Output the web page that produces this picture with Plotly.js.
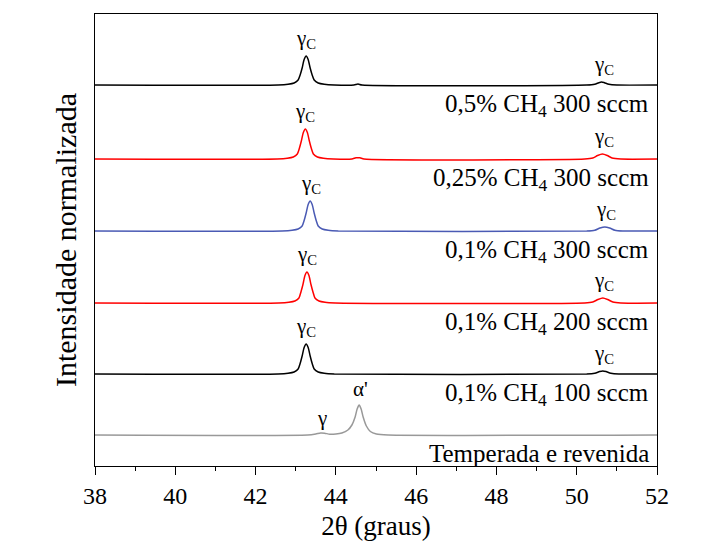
<!DOCTYPE html>
<html>
<head>
<meta charset="utf-8">
<script src="https://cdn.plot.ly/plotly-3.0.1.min.js"></script>
<style>html,body{margin:0;padding:0;background:#fff;}#chart{width:720px;height:548px;}</style>
</head>
<body>
<div id="chart"></div>
<script>
// Sample names (top to bottom)
const sampleNames = [
  "0,5% CH<sub>4</sub> 300 sccm",
  "0,25% CH<sub>4</sub> 300 sccm",
  "0,1% CH<sub>4</sub> 300 sccm",
  "0,1% CH<sub>4</sub> 200 sccm",
  "0,1% CH<sub>4</sub> 100 sccm",
  "Temperada e revenida"
];
// Vertical stacking offsets of each pattern (arbitrary normalized units)
const offsets = [381, 307, 235, 163, 92, 31];
const colors = ["#000000", "#ff0000", "#4a5ab4", "#ff0000", "#000000", "#999999"];

// 2θ (graus) and normalized intensity
const x1 = [38, 42.56, 42.81, 42.96, 43.06, 43.11, 43.16, 43.21, 43.26, 43.31, 43.36, 43.41, 43.46, 43.56, 43.71, 43.96, 44.45, 44.55, 44.65, 50.25, 50.45, 50.55, 50.62, 50.69, 50.8, 51.0, 52];
const y1 = [0, 0, 0.7, 2, 5, 10, 17, 25.5, 29, 25.5, 17, 10, 5, 2, 0.7, 0, 0, 1, 0, 0, 0.8, 2.3, 3, 2.3, 0.8, 0, 0];

const x2 = [38, 42.54, 42.79, 42.94, 43.04, 43.09, 43.14, 43.19, 43.24, 43.29, 43.34, 43.39, 43.44, 43.54, 43.69, 43.94, 44.4, 44.5, 44.6, 44.7, 50.2, 50.4, 50.52, 50.64, 50.76, 50.88, 51.1, 52];
const y2 = [0, 0, 0.7, 2, 5, 10.5, 18, 26.5, 30, 26.5, 18, 10.5, 5, 2, 0.7, 0, 0, 1.2, 1.2, 0, 0, 1, 3.5, 5, 3.5, 1, 0, 0];

const x3 = [38, 42.66, 42.91, 43.06, 43.16, 43.21, 43.26, 43.31, 43.36, 43.41, 43.46, 43.51, 43.56, 43.66, 43.81, 44.06, 50.25, 50.45, 50.58, 50.7, 50.82, 50.95, 51.15, 52];
const y3 = [0, 0, 0.7, 2, 5, 10.5, 18, 26.5, 30, 26.5, 18, 10.5, 5, 2, 0.7, 0, 0, 0.8, 3, 4, 3, 0.8, 0, 0];

const x4 = [38, 42.58, 42.83, 42.98, 43.08, 43.13, 43.18, 43.23, 43.28, 43.33, 43.38, 43.43, 43.48, 43.58, 43.73, 43.98, 50.2, 50.4, 50.53, 50.65, 50.77, 50.9, 51.1, 52];
const y4 = [0, 0, 0.7, 2, 5, 11, 18.5, 27.5, 31, 27.5, 18.5, 11, 5, 2, 0.7, 0, 0, 1, 3.5, 5, 3.5, 1, 0, 0];

const x5 = [38, 42.56, 42.81, 42.96, 43.06, 43.11, 43.16, 43.21, 43.26, 43.31, 43.36, 43.41, 43.46, 43.56, 43.71, 43.96, 50.25, 50.45, 50.57, 50.65, 50.73, 50.85, 51.05, 52];
const y5 = [0, 0, 0.7, 2, 5, 10.5, 18, 26.5, 30, 26.5, 18, 10.5, 5, 2, 0.7, 0, 0, 0.8, 2.4, 3, 2.4, 0.8, 0, 0];

const x6 = [38, 43.3, 43.5, 43.62, 43.72, 43.85, 44.0, 44.15, 44.3, 44.4, 44.48, 44.53, 44.58, 44.63, 44.68, 44.76, 44.86, 45.01, 45.3, 52];
const y6 = [0, 0, 1, 2, 1.8, 0.8, 1, 2, 5, 10, 18, 26, 30, 26, 18, 9, 3.5, 1, 0, 0];

const xs = [x1, x2, x3, x4, x5, x6];
const ys = [y1, y2, y3, y4, y5, y6];

// Peak labels: [pattern index, 2θ, label, height above baseline]
const peakLabels = [
  [0, 43.26, "γ<sub>C</sub>", 31], [0, 50.68, "γ<sub>C</sub>", 5],
  [1, 43.24, "γ<sub>C</sub>", 32], [1, 50.68, "γ<sub>C</sub>", 7],
  [2, 43.38, "γ<sub>C</sub>", 32], [2, 50.72, "γ<sub>C</sub>", 6],
  [3, 43.28, "γ<sub>C</sub>", 33], [3, 50.68, "γ<sub>C</sub>", 7],
  [4, 43.26, "γ<sub>C</sub>", 32], [4, 50.68, "γ<sub>C</sub>", 5],
  [5, 43.65, "γ", 3], [5, 44.62, "α'", 32]
];

const traces = xs.map((x, i) => ({
  x: x,
  y: ys[i].map(v => v + offsets[i]),
  type: "scatter",
  mode: "lines",
  line: {color: colors[i], width: 1.5, shape: "spline", smoothing: 0.6},
  hoverinfo: "skip",
  showlegend: false
}));

const font = "'Liberation Serif', 'Times New Roman', 'DejaVu Serif', serif";
const annotations = [];
peakLabels.forEach(p => {
  annotations.push({
    x: p[1], y: offsets[p[0]] + p[3], xref: "x", yref: "y",
    text: p[2], showarrow: false, xanchor: "center", yanchor: "bottom",
    font: {family: font, size: 21, color: "#000"}
  });
});
sampleNames.forEach((s, i) => {
  annotations.push({
    x: 51.85, y: offsets[i] - 3, xref: "x", yref: "y",
    text: s, showarrow: false, xanchor: "right", yanchor: "top",
    font: {family: font, size: 25, color: "#000"}
  });
});

const layout = {
  width: 720, height: 548,
  margin: {l: 95, r: 63, t: 14, b: 82},
  paper_bgcolor: "#fff", plot_bgcolor: "#fff",
  font: {family: font, color: "#000"},
  xaxis: {
    range: [38, 52], dtick: 2, tick0: 38,
    ticks: "outside", ticklen: 8, tickwidth: 1, tickcolor: "#000",
    minor: {dtick: 1, ticks: "outside", ticklen: 4, tickcolor: "#000"},
    showline: true, linecolor: "#000", linewidth: 1, mirror: true,
    showgrid: false, zeroline: false,
    tickfont: {family: font, size: 24, color: "#000"},
    title: {text: "2θ (graus)", font: {family: font, size: 27, color: "#000"}, standoff: 8}
  },
  yaxis: {
    range: [0, 452],
    showticklabels: false, ticks: "",
    showline: true, linecolor: "#000", linewidth: 1, mirror: true,
    showgrid: false, zeroline: false,
    title: {text: "Intensidade normalizada", font: {family: font, size: 30, color: "#000"}, standoff: 8}
  },
  annotations: annotations
};

Plotly.newPlot("chart", traces, layout, {staticPlot: true});
</script>
</body>
</html>
